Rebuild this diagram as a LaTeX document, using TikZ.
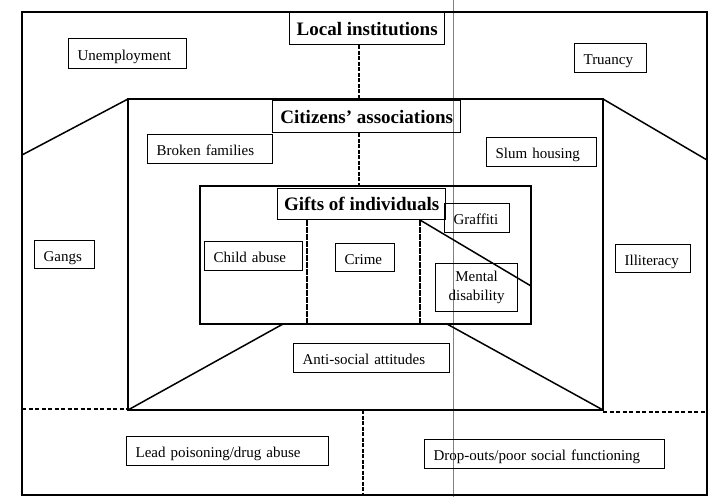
\documentclass[tikz,border=0pt]{standalone}
\usepackage{fontspec}
\setmainfont{Liberation Serif}
\begin{document}
\begin{tikzpicture}[x=1pt,y=-1pt,
  boxed/.style={draw, line width=1.2pt, inner xsep=9pt, inner ysep=0pt,
    font=\fontsize{15}{19}\selectfont, anchor=north west},
  lbl/.style={boxed, align=left, text height=13pt, text depth=0pt},
  title/.style={draw, line width=1.4pt, inner sep=0pt, align=center,
    font=\fontsize{19}{21}\selectfont\bfseries, anchor=north west},
  outerframe/.style={line width=2.2pt},
  frame/.style={line width=2.8pt},
  slant/.style={line width=1.5pt},
  tie/.style={line width=2pt, dash pattern=on 4pt off 1.5pt},
  split/.style={line width=2pt, dash pattern=on 6pt off 1pt},
  rule/.style={line width=1.2pt, dash pattern=on 4pt off 2.5pt},
  fold/.style={draw=black!50, line width=0.8pt}]

\useasboundingbox (0,0) rectangle (711,497);

% thin grey fold running top to bottom
\coordinate (foldT) at (453,0);
\coordinate (foldB) at (453,497);
\draw[fold] (foldT) -- (foldB);

% frame corners
\coordinate (oNW) at (22,12);
\coordinate (oSE) at (707,495);
\coordinate (mNW) at (128,99);
\coordinate (mNE) at (603,99);
\coordinate (mSW) at (128,410);
\coordinate (mSE) at (603,410);
\coordinate (iNW) at (200,186);
\coordinate (iSE) at (531,324);

\draw[outerframe] (oNW) rectangle (oSE);
\draw[frame] (mNW) rectangle (mSE);
\draw[frame] (iNW) rectangle (iSE);

% level titles
\node[title, minimum width=155pt, minimum height=32pt] (local) at (289,12) {Local institutions};
\node[title, minimum width=188pt, minimum height=32pt] (citizens) at (272,100) {Citizens’ associations};
\node[title, minimum width=168pt, minimum height=31pt] (gifts) at (277,188) {Gifts of individuals};

% problems in the outer ring
\node[lbl, text width=100pt, minimum height=30pt] (unemp) at (68,38) {Unemployment};
\node[lbl, text width=54pt, minimum height=29pt] (truancy) at (574,43) {Truancy};
\node[lbl, text width=42pt, minimum height=28pt] (gangs) at (34,240) {Gangs};
\node[lbl, text width=57pt, minimum height=28pt] (illit) at (615,244) {Illiteracy};
\node[lbl, text width=184pt, minimum height=29pt] (lead) at (126,436) {Lead poisoning/drug abuse};
\node[lbl, text width=222pt, minimum height=29pt] (drop) at (424,439) {Drop-outs/poor social functioning};

% problems in the middle ring
\node[lbl, text width=107pt, minimum height=29pt] (broken) at (147,134) {Broken families};
\node[lbl, text width=92pt, minimum height=29pt] (slum) at (486,137) {Slum housing};
\node[lbl, text width=138pt, minimum height=29pt] (anti) at (293,343) {Anti-social attitudes};

% problems in the inner ring
\node[lbl, text width=47pt, minimum height=29pt] (graffiti) at (444,203) {Graffiti};
\node[lbl, text width=80pt, minimum height=29pt] (child) at (204,241) {Child abuse};
\node[lbl, text width=41pt, minimum height=28pt] (crime) at (335,243) {Crime};
\node[boxed, text width=64pt, minimum height=48pt, align=center] (mental) at (435,263) {Mental\\disability};

% slanted links between the frames
\coordinate (oL) at (22,155);
\coordinate (oR) at (707,160);
\coordinate (iBL) at (283,324);
\coordinate (iBR) at (447,324);
\draw[slant] (oL) -- (mNW);
\draw[slant] (mNE) -- (oR);
\draw[slant] (iBL) -- (mSW);
\draw[slant] (iBR) -- (mSE);

% divisions inside the inner frame
\coordinate (sA) at (307,0);
\coordinate (sB) at (420,0);
\coordinate (dA) at (420,220);
\coordinate (dB) at (531,286);
\draw[split] (sA |- gifts.south) -- (sA |- iSE);
\draw[split] (dA) -- (sB |- iSE);
\draw[slant] (dA) -- (dB);

% dashed ties between the level titles
\coordinate (tx) at (359,0);
\draw[tie] (tx |- local.south) -- (tx |- citizens.north);
\draw[tie] (tx |- citizens.south) -- (tx |- gifts.north);

% dashed rules across the lower band
\coordinate (lL) at (22,409);
\coordinate (lR) at (128,409);
\coordinate (rL) at (603,412);
\coordinate (rR) at (707,412);
\coordinate (bx) at (363,0);
\draw[rule] (lL) -- (lR);
\draw[rule] (rL) -- (rR);
\draw[tie] (bx |- mSE) -- (bx |- oSE);
\end{tikzpicture}
\end{document}
